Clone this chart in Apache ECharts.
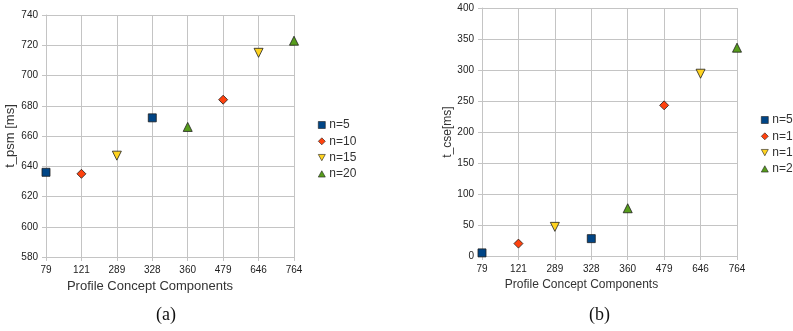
<!DOCTYPE html>
<html>
<head>
<meta charset="utf-8">
<script src="https://cdn.jsdelivr.net/npm/echarts@6/dist/echarts.min.js"></script>
<style>
html,body{margin:0;padding:0;background:#fff;}
#c{width:793px;height:331px;}
</style>
</head>
<body>
<div id="c"></div>
<script>
// Data
const categories = ['79', '121', '289', '328', '360', '479', '646', '764'];
const seriesNames = ['n=5', 'n=10', 'n=15', 'n=20'];
// chart (a): t_psm [ms]
const psmN5 = [['79', 636], ['328', 672]];
const psmN10 = [['121', 635], ['479', 684]];
const psmN15 = [['289', 647], ['646', 715]];
const psmN20 = [['360', 666], ['764', 723]];
// chart (b): t_cse[ms]
const cseN5 = [['79', 5], ['328', 28]];
const cseN10 = [['121', 20], ['479', 243]];
const cseN15 = [['289', 47], ['646', 294]];
const cseN20 = [['360', 77], ['764', 336]];

const colors = ['#004586', '#ff420e', '#ffd320', '#579d1c'];
const downTri = 'path://M0,0 L10,0 L5,9 Z';
const upTri = 'path://M5,0 L10,9 L0,9 Z';
const symbols = ['rect', 'diamond', downTri, upTri];
const sizes = [8, 9, 9, 9];
const font = 'Liberation Sans, Arial, sans-serif';
const gridColor = '#c4c4c4';

function xAxis(gridIndex, nameGap, padRight, nameSize) {
  return {
    type: 'category', gridIndex, data: categories, boundaryGap: false,
    name: 'Profile Concept Components', nameLocation: 'middle', nameGap,
    nameTextStyle: { fontFamily: font, fontSize: nameSize, color: '#333', padding: [0, padRight, 0, 0] },
    axisLine: { lineStyle: { color: gridColor } },
    axisTick: { show: true, length: 4, alignWithLabel: true, lineStyle: { color: gridColor } },
    axisLabel: { fontFamily: font, fontSize: 10, color: '#222', margin: 8 },
    splitLine: { show: true, lineStyle: { color: gridColor } }
  };
}
function yAxis(gridIndex, name, min, max, interval, nameGap, nameSize) {
  return {
    type: 'value', gridIndex, min, max, interval,
    name, nameLocation: 'middle', nameGap,
    nameTextStyle: { fontFamily: font, fontSize: nameSize, color: '#333' },
    axisLine: { show: true, lineStyle: { color: gridColor } },
    axisTick: { show: true, length: 4, lineStyle: { color: gridColor } },
    axisLabel: { fontFamily: font, fontSize: 10, color: '#222', margin: 8 },
    splitLine: { show: true, lineStyle: { color: gridColor } }
  };
}
function makeSeries(dataArr, xi, yi) {
  return dataArr.map((d, i) => ({
    type: 'scatter', name: seriesNames[i], xAxisIndex: xi, yAxisIndex: yi,
    data: d, symbol: symbols[i], symbolSize: sizes[i],
    itemStyle: { color: colors[i], borderColor: '#1e1e1e', borderWidth: 0.8, opacity: 1 },
    emphasis: { disabled: true }
  }));
}
function legend(left, top) {
  return {
    left, top, orient: 'vertical', itemWidth: 7, itemHeight: 7, itemGap: 4.3,
    textStyle: { fontFamily: font, fontSize: 12, color: '#333', padding: [0, 0, 0, -1] },
    data: seriesNames.map((n, i) => ({ name: n, icon: symbols[i] })),
    itemStyle: { borderWidth: 0.6, borderColor: '#1e1e1e' }
  };
}

const chart = echarts.init(document.getElementById('c'), null, { renderer: 'canvas' });
chart.setOption({
  animation: false,
  backgroundColor: '#fff',
  color: colors,
  grid: [
    { left: 46, top: 15, width: 248, height: 242 },
    { left: 482, top: 8, width: 255, height: 248 }
  ],
  xAxis: [xAxis(0, 22, 40, 13), xAxis(1, 20, 56, 12)],
  yAxis: [
    yAxis(0, 't_psm [ms]', 580, 740, 20, 25, 13),
    yAxis(1, 't_cse[ms]', 0, 400, 50, 27, 12)
  ],
  legend: [legend(313, 114), legend(756, 109)],
  series: [...makeSeries([psmN5, psmN10, psmN15, psmN20], 0, 0),
           ...makeSeries([cseN5, cseN10, cseN15, cseN20], 1, 1)],
  graphic: [
    { type: 'text', left: 156, top: 306, style: { text: '(a)', font: '18px "Liberation Serif", "DejaVu Serif", serif', fill: '#111' } },
    { type: 'text', left: 589, top: 306, style: { text: '(b)', font: '18px "Liberation Serif", "DejaVu Serif", serif', fill: '#111' } }
  ]
});
</script>
</body>
</html>
